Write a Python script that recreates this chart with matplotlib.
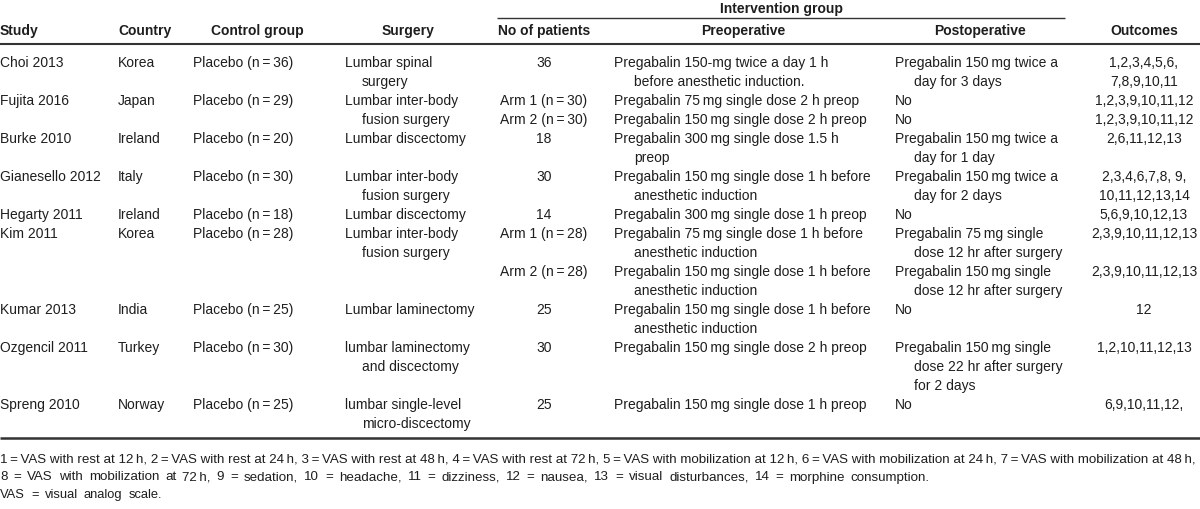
import matplotlib
matplotlib.use("Agg")
import matplotlib.pyplot as plt
from matplotlib import font_manager

TS = "\u2009"  # thin space, as in the journal typesetting

# ---- table data ----
studies = ["Choi 2013", "Fujita 2016", "Burke 2010", "Gianesello 2012", "Hegarty 2011",
           "Kim 2011", "Kumar 2013", "Ozgencil 2011", "Spreng 2010"]
countries = ["Korea", "Japan", "Ireland", "Italy", "Ireland", "Korea", "India", "Turkey", "Norway"]
control_n = [36, 29, 20, 30, 18, 28, 25, 30, 25]
surgeries = ["Lumbar spinal\nsurgery", "Lumbar inter-body\nfusion surgery", "Lumbar discectomy",
             "Lumbar inter-body\nfusion surgery", "Lumbar discectomy",
             "Lumbar inter-body\nfusion surgery", "Lumbar laminectomy",
             "lumbar laminectomy\nand discectomy", "lumbar single-level\nmicro-discectomy"]

# one entry per intervention arm
arm_study = [0, 1, 1, 2, 3, 4, 5, 5, 6, 7, 8]
arm_patients = ["36", f"Arm 1 (n{TS}={TS}30)", f"Arm 2 (n{TS}={TS}30)", "18", "30", "14",
                f"Arm 1 (n{TS}={TS}28)", f"Arm 2 (n{TS}={TS}28)", "25", "30", "25"]
arm_preop = [
    "Pregabalin 150-mg twice a day 1 h\nbefore anesthetic induction.",
    f"Pregabalin 75{TS}mg single dose 2 h preop",
    f"Pregabalin 150{TS}mg single dose 2 h preop",
    f"Pregabalin 300{TS}mg single dose 1.5 h\npreop",
    f"Pregabalin 150{TS}mg single dose 1 h before\nanesthetic induction",
    f"Pregabalin 300{TS}mg single dose 1 h preop",
    f"Pregabalin 75{TS}mg single dose 1 h before\nanesthetic induction",
    f"Pregabalin 150{TS}mg single dose 1 h before\nanesthetic induction",
    f"Pregabalin 150{TS}mg single dose 1 h before\nanesthetic induction",
    f"Pregabalin 150{TS}mg single dose 2 h preop",
    f"Pregabalin 150{TS}mg single dose 1 h preop",
]
arm_postop = [
    f"Pregabalin 150{TS}mg twice a\nday for 3 days", "No", "No",
    f"Pregabalin 150{TS}mg twice a\nday for 1 day",
    f"Pregabalin 150{TS}mg twice a\nday for 2 days", "No",
    f"Pregabalin 75{TS}mg single\ndose 12 hr after surgery",
    f"Pregabalin 150{TS}mg single\ndose 12 hr after surgery", "No",
    f"Pregabalin 150{TS}mg single\ndose 22 hr after surgery\nfor 2 days", "No",
]
arm_outcomes = ["1,2,3,4,5,6,\n7,8,9,10,11", "1,2,3,9,10,11,12", "1,2,3,9,10,11,12",
                "2,6,11,12,13", "2,3,4,6,7,8, 9,\n10,11,12,13,14", "5,6,9,10,12,13",
                "2,3,9,10,11,12,13", "2,3,9,10,11,12,13", "12", "1,2,10,11,12,13",
                "6,9,10,11,12,"]

headers = ["Study", "Country", "Control group", "Surgery", "No of patients",
           "Preoperative", "Postoperative", "Outcomes"]
group_header = "Intervention group"

footnotes = [
    f"1{TS}={TS}VAS with rest at 12{TS}h, 2{TS}={TS}VAS with rest at 24{TS}h, 3{TS}={TS}VAS with rest at 48{TS}h, "
    f"4{TS}={TS}VAS with rest at 72{TS}h, 5{TS}={TS}VAS with mobilization at 12{TS}h, "
    f"6{TS}={TS}VAS with mobilization at 24{TS}h, 7{TS}={TS}VAS with mobilization at 48{TS}h,",
    f"8 = VAS with mobilization at 72{TS}h, 9 = sedation, 10 = headache, 11 = dizziness, "
    "12 = nausea, 13 = visual disturbances, 14 = morphine consumption.",
    "VAS = visual analog scale.",
]

# ---- layout (pixel coordinates) ----
W, H = 1200, 509
P = 19.0                  # line pitch
FIRST = 67.0              # baseline of first body line
COL = "#1e1e1e"

installed = {f.name for f in font_manager.fontManager.ttflist}
if "Liberation Sans Narrow" in installed:
    FONT = ["Liberation Sans Narrow", "DejaVu Sans"]
    FS = 12.2
else:
    FONT = ["Liberation Sans", "DejaVu Sans"]
    FS = 10.0

fig = plt.figure(figsize=(W / 100, H / 100), dpi=100)
ax = fig.add_axes([0, 0, 1, 1])
ax.set_xlim(0, W)
ax.set_ylim(H, 0)
ax.axis("off")
renderer = fig.canvas.get_renderer()


def nlines(s):
    return s.count("\n") + 1


def cell(x, y, text, ha="left", indent=0, bold=False):
    for i, line in enumerate(text.split("\n")):
        xx = x + (indent if i > 0 and ha == "left" else 0)
        ax.text(xx, y + i * P, line, ha=ha, va="baseline", fontsize=FS, color=COL,
                family=FONT, fontweight="bold" if bold else "normal")


# headers
hx = [(0, "left"), (118, "left"), (257, "center"), (408, "center"), (544, "center"),
      (743, "center"), (980, "center"), (1144, "center")]
for (x, ha), h in zip(hx, headers):
    cell(x, 35, h, ha=ha, bold=True)
cell(781, 12.5, group_header, ha="center", bold=True)

ax.plot([497, 1065], [17.5, 17.5], color="#333333", lw=1.0, solid_capstyle="butt")
ax.plot([0, W], [44, 44], color="#333333", lw=1.5, solid_capstyle="butt")

# body: arms stack inside each study block, blocks stack one after another
y = FIRST
for i in range(len(studies)):
    arms = [j for j in range(len(arm_study)) if arm_study[j] == i]
    cell(0, y, studies[i])
    cell(118, y, countries[i])
    cell(193, y, f"Placebo (n{TS}={TS}{control_n[i]})")
    cell(345, y, surgeries[i], indent=17)
    ya = y
    for j in arms:
        cell(544, ya, arm_patients[j], ha="center")
        cell(614, ya, arm_preop[j], indent=20)
        cell(895, ya, arm_postop[j], indent=19)
        cell(1144, ya, arm_outcomes[j], ha="center")
        ya += P * max(nlines(arm_preop[j]), nlines(arm_postop[j]), nlines(arm_outcomes[j]))
    y = max(ya, y + P * nlines(surgeries[i]))

ax.plot([0, W], [y - P + 10, y - P + 10], color="#333333", lw=1.8, solid_capstyle="butt")

# footnotes: the first is sized to fill the width; the others are sized a bit
# under their journal width and then justified word by word to it
fn_y = [462.5, 480.5, 498]
fn_w = [1197, 930, 162]
t = ax.text(0, fn_y[0], footnotes[0], ha="left", va="baseline", fontsize=FS, color=COL, family=FONT)
t.set_fontsize(FS * fn_w[0] / t.get_window_extent(renderer).width)

for txt, yy, ww in zip(footnotes[1:], fn_y[1:], fn_w[1:]):
    probe = ax.text(0, yy, txt, fontsize=FS, family=FONT)
    fs = min(FS, FS * 0.94 * ww / probe.get_window_extent(renderer).width)
    probe.remove()
    words = txt.split(" ")
    objs = [ax.text(0, yy, w_, ha="left", va="baseline", fontsize=fs, color=COL, family=FONT)
            for w_ in words]
    widths = [o.get_window_extent(renderer).width for o in objs]
    gap = (ww - sum(widths)) / (len(words) - 1)
    x = 0
    for o, wd in zip(objs, widths):
        o.set_x(x)
        x += wd + gap

fig.savefig("out.png", dpi=100)
